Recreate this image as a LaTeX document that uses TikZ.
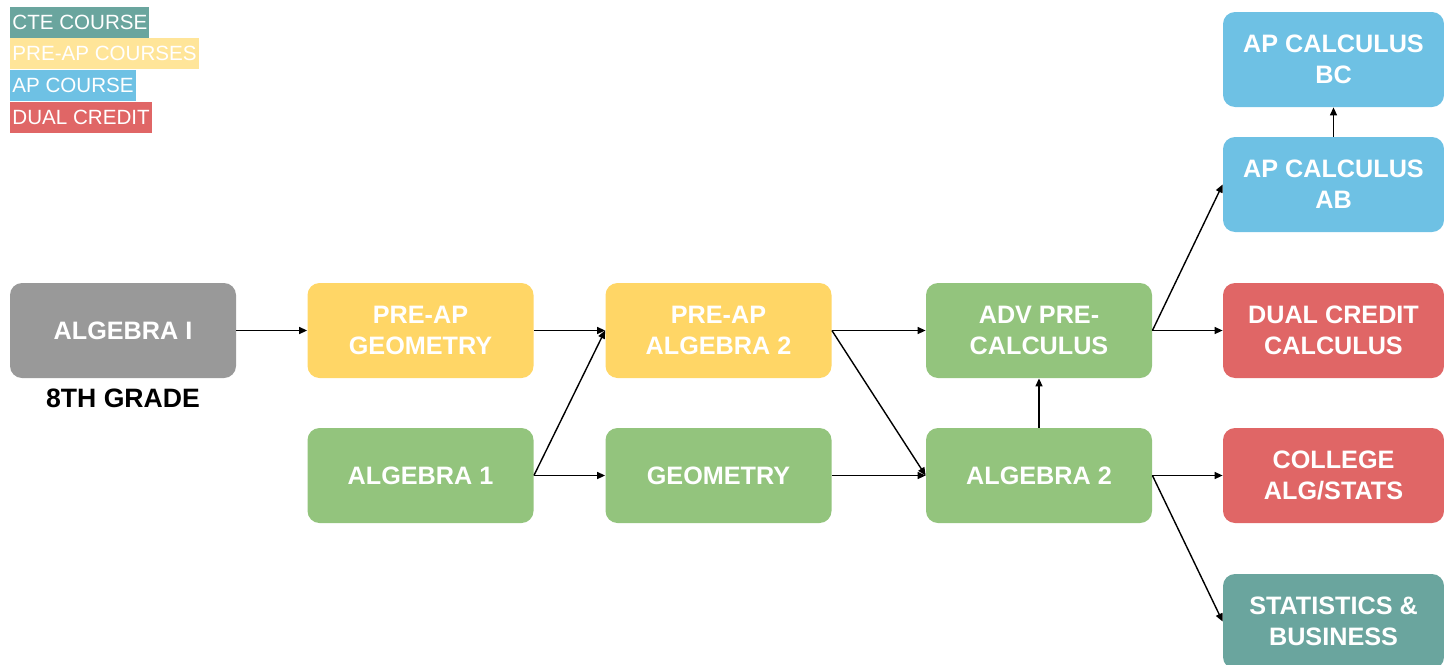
\documentclass[tikz,border=0pt]{standalone}
\usepackage{fontspec}
\setmainfont{Liberation Sans}
\usepackage{xcolor}
\usetikzlibrary{arrows.meta, positioning}

\definecolor{gradegray}{HTML}{999999}
\definecolor{preapyellow}{HTML}{FFD666}
\definecolor{regreen}{HTML}{93C47D}
\definecolor{apblue}{HTML}{6EC1E4}
\definecolor{dcred}{HTML}{E06666}
\definecolor{cteteal}{HTML}{6AA59E}
\definecolor{keyyellow}{HTML}{FFE599}

\begin{document}
\begin{tikzpicture}[
    x=0.5pt, y=-0.5pt,
    course/.style={rounded corners=6pt, minimum width=113pt, minimum height=47.5pt, align=center, text=white, inner sep=0pt, font=\bfseries\fontsize{12.6}{15.5}\selectfont},
    apcourse/.style={course, minimum width=110.5pt},
    key/.style={anchor=west, text=white, inner xsep=1pt, inner ysep=0pt, minimum height=15.5pt, font=\fontsize{10.3}{12}\selectfont},
    arrow/.style={-{Triangle[length=4pt, width=3.5pt]}, line width=0.7pt}
]
    \useasboundingbox (0,0) rectangle (1444,664);
    \clip (0,0) rectangle (1444,664);

    % legend
    \node[key, fill=cteteal]    (kcte)  at (10,22.5)  {CTE COURSE};
    \node[key, fill=keyyellow]  (kpre)  at (10,53.5)  {PRE-AP COURSES};
    \node[key, fill=apblue]     (kap)   at (10,85.5)  {AP COURSE};
    \node[key, fill=dcred]      (kdual) at (10,117)   {DUAL CREDIT};

    \node[course, fill=gradegray]   (algeight) at (123,330.5)   {ALGEBRA I};
    \node[font=\bfseries\fontsize{13.3}{16}\selectfont] (grade) at (123,398) {8TH GRADE};

    \node[course, fill=preapyellow] (pgeo)     at (420.5,330.5) {PRE-AP\\GEOMETRY};
    \node[course, fill=regreen]     (algone)   at (420.5,475.5) {ALGEBRA 1};
    \node[course, fill=preapyellow] (palgtwo)  at (718.5,330.5) {PRE-AP\\ALGEBRA 2};
    \node[course, fill=regreen]     (geo)      at (718.5,475.5) {GEOMETRY};
    \node[course, fill=regreen]     (advpre)   at (1039,330.5)  {ADV PRE-\\CALCULUS};
    \node[course, fill=regreen]     (algtwo)   at (1039,475.5)  {ALGEBRA 2};

    \node[apcourse, fill=apblue]    (apbc)     at (1333.5,59.5)  {AP CALCULUS\\BC};
    \node[apcourse, fill=apblue]    (apab)     at (1333.5,184.5) {AP CALCULUS\\AB};
    \node[apcourse, fill=dcred]     (dualcalc) at (1333.5,330.5) {DUAL CREDIT\\CALCULUS};
    \node[apcourse, fill=dcred]     (college)  at (1333.5,475.5) {COLLEGE\\ALG/STATS};
    \node[apcourse, fill=cteteal]   (stats)    at (1333.5,621.5) {STATISTICS \&\\BUSINESS};

    \draw[arrow] (algeight.east) -- (pgeo.west);
    \draw[arrow] (pgeo.east) -- (palgtwo.west);
    \draw[arrow] (algone.east) -- (palgtwo.west);
    \draw[arrow] (algone.east) -- (geo.west);
    \draw[arrow] (palgtwo.east) -- (advpre.west);
    \draw[arrow] (palgtwo.east) -- (algtwo.west);
    \draw[arrow] (geo.east) -- (algtwo.west);
    \draw[arrow] (algtwo.north) -- (advpre.south);
    \draw[arrow] (advpre.east) -- (apab.west);
    \draw[arrow] (advpre.east) -- (dualcalc.west);
    \draw[arrow] (apab.north) -- (apbc.south);
    \draw[arrow] (algtwo.east) -- (college.west);
    \draw[arrow] (algtwo.east) -- (stats.west);
\end{tikzpicture}
\end{document}
